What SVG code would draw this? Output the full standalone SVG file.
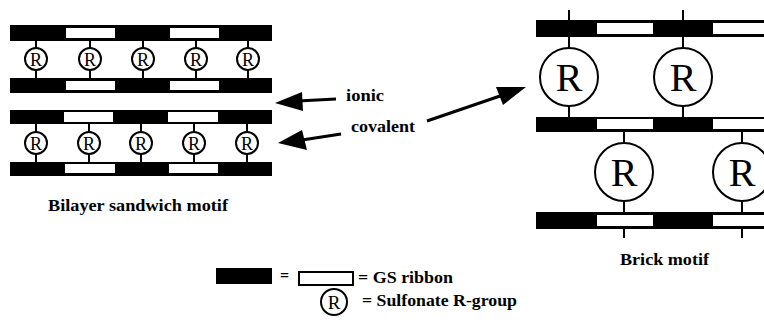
<svg xmlns="http://www.w3.org/2000/svg" width="764" height="324" viewBox="0 0 764 324">
<style>
.bar{fill:#000}
.win{fill:#fff}
.stem{stroke:#000;stroke-width:2}
.rc{fill:#fff;stroke:#000;stroke-width:2}
.rs{font-family:"Liberation Serif",serif;font-size:18px;text-anchor:middle}
.rl{font-family:"Liberation Serif",serif;font-size:40px;text-anchor:middle}
.lab{font-family:"Liberation Serif",serif;font-weight:bold;font-size:16px}
.shaft{stroke:#000;stroke-width:3;fill:none}
.head{fill:#000}
</style>
<rect width="764" height="324" fill="#fff"/>
<g id="bilayer">
  <rect class="bar" x="10" y="25" width="262" height="16"/>
  <rect class="win" x="66" y="28" width="49" height="10"/>
  <rect class="win" x="170" y="28" width="49" height="10"/>
  <rect class="bar" x="10" y="78" width="262" height="15"/>
  <rect class="win" x="66" y="81" width="49" height="9"/>
  <rect class="win" x="170" y="81" width="49" height="9"/>
  <g>
    <line class="stem" x1="36" y1="41" x2="36" y2="78"/>
    <line class="stem" x1="90" y1="41" x2="90" y2="78"/>
    <line class="stem" x1="143" y1="41" x2="143" y2="78"/>
    <line class="stem" x1="196" y1="41" x2="196" y2="78"/>
    <line class="stem" x1="248" y1="41" x2="248" y2="78"/>
    <circle class="rc" cx="36" cy="59" r="11"/><text class="rs" x="36" y="65.5">R</text>
    <circle class="rc" cx="90" cy="59" r="11"/><text class="rs" x="90" y="65.5">R</text>
    <circle class="rc" cx="143" cy="59" r="11"/><text class="rs" x="143" y="65.5">R</text>
    <circle class="rc" cx="196" cy="59" r="11"/><text class="rs" x="196" y="65.5">R</text>
    <circle class="rc" cx="248" cy="59" r="11"/><text class="rs" x="248" y="65.5">R</text>
  </g>
  <rect class="bar" x="10" y="110" width="262" height="14"/>
  <rect class="win" x="64" y="112" width="49" height="10"/>
  <rect class="win" x="168" y="112" width="50" height="10"/>
  <rect class="bar" x="10" y="162" width="262" height="14"/>
  <rect class="win" x="65" y="164" width="50" height="9"/>
  <rect class="win" x="169" y="164" width="49" height="9"/>
  <g>
    <line class="stem" x1="36" y1="124" x2="36" y2="162"/>
    <line class="stem" x1="89" y1="124" x2="89" y2="162"/>
    <line class="stem" x1="141" y1="124" x2="141" y2="162"/>
    <line class="stem" x1="194" y1="124" x2="194" y2="162"/>
    <line class="stem" x1="247" y1="124" x2="247" y2="162"/>
    <circle class="rc" cx="36" cy="143" r="11"/><text class="rs" x="36" y="149.5">R</text>
    <circle class="rc" cx="89" cy="143" r="11"/><text class="rs" x="89" y="149.5">R</text>
    <circle class="rc" cx="141" cy="143" r="11"/><text class="rs" x="141" y="149.5">R</text>
    <circle class="rc" cx="194" cy="143" r="11"/><text class="rs" x="194" y="149.5">R</text>
    <circle class="rc" cx="247" cy="143" r="11"/><text class="rs" x="247" y="149.5">R</text>
  </g>
  <text class="lab" x="48" y="211" textLength="180" lengthAdjust="spacingAndGlyphs">Bilayer sandwich motif</text>
</g>
<g id="brick">
  <line class="stem" x1="569" y1="10" x2="569" y2="117"/>
  <line class="stem" x1="683" y1="10" x2="683" y2="117"/>
  <line class="stem" x1="624" y1="117" x2="624" y2="238"/>
  <line class="stem" x1="742" y1="117" x2="742" y2="238"/>
  <rect class="bar" x="536" y="20" width="230" height="17"/>
  <rect class="win" x="597" y="23" width="56" height="11"/>
  <rect class="win" x="713" y="23" width="53" height="11"/>
  <rect class="bar" x="536" y="117" width="230" height="15"/>
  <rect class="win" x="597" y="119" width="56" height="10"/>
  <rect class="win" x="713" y="119" width="53" height="10"/>
  <rect class="bar" x="536" y="212" width="230" height="17"/>
  <rect class="win" x="597" y="215" width="56" height="11"/>
  <rect class="win" x="713" y="215" width="53" height="11"/>
  <circle class="rc" cx="569" cy="77" r="29"/><text class="rl" x="569" y="91">R</text>
  <circle class="rc" cx="683" cy="77" r="29"/><text class="rl" x="683" y="91">R</text>
  <circle class="rc" cx="624" cy="172" r="29"/><text class="rl" x="624" y="186">R</text>
  <circle class="rc" cx="742" cy="172" r="29"/><text class="rl" x="742" y="186">R</text>
  <text class="lab" x="620" y="265" textLength="89" lengthAdjust="spacingAndGlyphs">Brick motif</text>
</g>
<g id="connectors">
  <line class="shaft" x1="336" y1="99" x2="298" y2="101"/>
  <polygon class="head" points="275,103 302,92 303,111"/>
  <line class="shaft" x1="341" y1="134" x2="302" y2="140"/>
  <polygon class="head" points="278,143 302,130 307,150"/>
  <line class="shaft" x1="427" y1="121" x2="503" y2="95"/>
  <polygon class="head" points="526,87 496,87 503,105"/>
</g>
<g id="labels">
  <text class="lab" x="346" y="101" textLength="38" lengthAdjust="spacingAndGlyphs">ionic</text>
  <text class="lab" x="351" y="132" textLength="64" lengthAdjust="spacingAndGlyphs">covalent</text>
</g>
<g id="legend">
  <rect class="bar" x="216" y="268" width="56" height="16"/>
  <text class="lab" x="280" y="281">=</text>
  <rect x="299" y="272" width="54" height="13" fill="#fff" stroke="#000" stroke-width="2"/>
  <text class="lab" x="358" y="283" textLength="95" lengthAdjust="spacingAndGlyphs">= GS ribbon</text>
  <circle class="rc" cx="334" cy="302" r="13"/><text class="rs" x="334" y="309" style="font-size:19px">R</text>
  <text class="lab" x="362" y="306" textLength="155" lengthAdjust="spacingAndGlyphs">= Sulfonate R-group</text>
</g>
</svg>
